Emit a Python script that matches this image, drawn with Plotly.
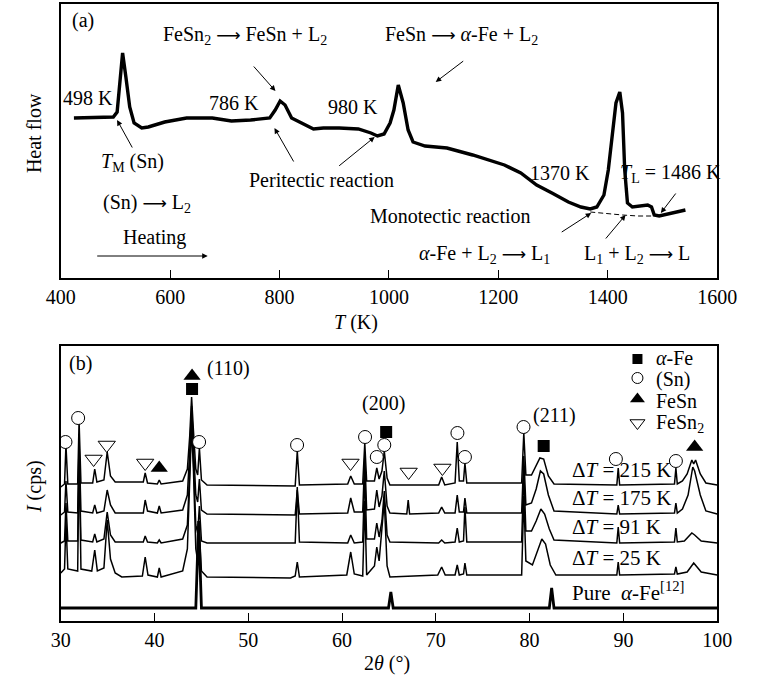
import plotly.graph_objects as go

# ---------------- Panel (a): DSC heat flow ----------------
T_K = [424, 470, 496, 503, 508, 513, 519, 526, 534, 548, 560, 590, 630, 677, 712, 747, 782, 792, 801,
       810, 822, 840, 862, 880, 909, 944, 967, 979, 991, 1002, 1009, 1017, 1026, 1035, 1044, 1066,
       1106, 1153, 1211, 1241, 1270, 1298, 1328, 1351, 1368, 1380, 1393, 1401, 1410, 1415, 1422,
       1427, 1431, 1436, 1445, 1473, 1480, 1485, 1494, 1542]
heat_flow = [160, 161, 161, 166, 198, 225, 201, 171, 155, 150, 151, 156, 160, 160, 157, 158, 160, 168, 177,
             173, 160, 155, 149, 150, 150, 149, 145, 142, 144, 155, 168, 193, 175, 148, 136, 132,
             130, 123, 113, 105, 93, 85, 76, 71, 69, 71, 83, 108, 155, 175, 186,
             165, 108, 75, 71, 73, 71, 63, 62, 68]
baseline_T = [1368, 1400, 1427, 1455, 1485]
baseline_hf = [66, 64, 63, 62, 62]
T_ticks = [400, 600, 800, 1000, 1200, 1400, 1600]

# ---------------- Panel (b): XRD patterns ----------------
xrd_215 = [(30.0,134),(30.4,137),(30.55,176),(30.75,137),(31.8,137),(31.95,200),(32.15,138),(33.4,138),
    (33.62,152),(33.85,139),(34.6,141),(34.95,169),(35.3,145),(35.8,139),(38.8,139),(39.0,148),(39.25,138),
    (40.3,137),(40.5,141),(40.7,137),(43.0,140),(43.5,152),(43.75,185),(43.95,224),(44.15,190),(44.4,152),
    (44.6,146),(44.78,173),(45.0,141),(45.6,136),(55.0,135),(55.22,170),(55.45,136),(60.6,137),(60.92,145),
    (61.3,137),(62.2,137),(62.42,178),(62.62,140),(63.45,140),(63.7,153),(63.95,142),(64.25,150),(64.5,170),
    (64.8,143),(65.1,136),(70.3,136),(70.62,144),(70.95,136),(72.05,138),(72.28,179),(72.5,140),(72.95,140),
    (73.1,158),(73.3,138),(79.15,138),(79.38,188),(79.6,146),(80.2,146),(80.7,156),(81.1,163),(81.5,162),
    (82.0,145),(82.6,137),(89.3,136),(89.45,153),(89.6,136),(95.45,137),(95.6,153),(95.75,137),(96.3,140),
    (96.8,147),(97.3,161),(97.5,157),(97.7,161),(98.2,147),(98.8,138),(100.0,136)]
xrd_175 = [(30.0,106),(30.4,109),(30.55,140),(30.75,109),(31.8,108),(31.95,180),(32.15,110),(33.4,108),
    (33.62,116),(33.85,108),(34.6,110),(34.95,131),(35.3,116),(35.8,108),(38.8,108),(39.0,121),(39.25,110),
    (40.3,108),(40.5,115),(40.7,108),(43.0,111),(43.5,126),(43.75,170),(43.95,215),(44.15,175),(44.4,126),
    (44.6,119),(44.78,142),(45.0,111),(45.6,107),(55.0,106),(55.22,131),(55.45,107),(60.6,108),(60.92,123),
    (61.3,109),(62.2,109),(62.42,165),(62.62,111),(63.45,112),(63.7,131),(63.95,114),(64.25,125),(64.5,150),
    (64.8,115),(65.1,108),(66.9,107),(67.05,121),(67.2,107),(70.3,108),(70.62,114),(70.95,108),(72.05,108),
    (72.28,126),(72.5,109),(72.95,109),(73.1,123),(73.3,108),(79.15,108),(79.38,165),(79.6,116),(80.2,118),
    (80.7,132),(81.15,150),(81.5,147),(82.0,126),(82.6,110),(89.3,107),(89.45,116),(89.6,107),(95.45,108),
    (95.6,118),(95.75,108),(96.3,112),(96.9,126),(97.4,154),(97.6,150),(98.2,126),(98.8,110),(100.0,107)]
xrd_91 = [(30.0,78),(30.4,80),(30.55,118),(30.75,80),(31.8,80),(31.95,165),(32.15,81),(33.4,79),(33.62,87),
    (33.85,79),(34.6,82),(34.95,109),(35.3,86),(35.8,79),(38.8,79),(39.0,85),(39.25,79),(40.3,78),(40.5,81),
    (40.7,78),(43.0,82),(43.5,96),(43.75,150),(43.95,205),(44.15,160),(44.4,96),(44.6,88),(44.78,115),
    (45.0,80),(45.6,78),(55.0,78),(55.22,134),(55.45,79),(60.6,78),(60.92,86),(61.3,78),(62.2,79),(62.42,150),
    (62.62,82),(63.45,82),(63.7,98),(63.95,84),(64.25,100),(64.5,130),(64.8,86),(65.1,79),(70.3,78),
    (70.62,81),(70.95,78),(72.05,79),(72.28,93),(72.5,79),(72.95,80),(73.1,114),(73.3,79),(79.15,79),
    (79.38,150),(79.6,90),(80.2,90),(80.7,100),(81.2,112),(81.6,107),(82.1,92),(82.6,81),(89.3,78),
    (89.45,94),(89.6,78),(95.45,79),(95.6,93),(95.75,79),(96.5,80),(97.3,88),(97.6,86),(98.3,80),(100.0,78)]
xrd_25 = [(30.0,48),(30.4,52),(30.55,100),(30.75,52),(31.8,50),(31.95,170),(32.15,52),(33.3,50),(33.62,71),
    (33.9,50),(34.6,53),(34.95,101),(35.3,62),(35.8,48),(36.5,44),(38.7,45),(39.0,64),(39.3,46),(40.3,44),
    (40.5,53),(40.7,44),(43.0,50),(43.5,72),(43.75,140),(43.95,195),(44.15,150),(44.4,72),(44.6,60),
    (44.78,90),(45.0,50),(45.6,44),(54.5,43),(55.0,45),(55.22,59),(55.45,44),(60.5,46),(60.92,69),(61.3,47),
    (62.2,45),(62.42,120),(62.62,46),(63.45,55),(63.7,74),(63.95,60),(64.25,90),(64.5,120),(64.8,55),
    (65.1,44),(70.2,46),(70.62,54),(71.0,46),(72.05,46),(72.28,56),(72.5,46),(72.95,47),(73.1,58),(73.3,46),
    (79.15,46),(79.38,125),(79.6,60),(80.3,56),(80.8,70),(81.3,82),(81.7,77),(82.2,56),(82.8,46),(89.3,46),
    (89.45,59),(89.6,46),(95.45,47),(95.6,54),(95.75,47),(96.8,49),(97.5,58),(98.3,49),(100.0,46)]
xrd_pure_fe = [(30.0,13),(44.4,13),(44.7,100),(45.0,13),(64.95,13),(65.2,29),(65.45,13),(82.1,13),
    (82.35,33),(82.6,13),(100.0,13)]

pattern_labels = ["Δ<i>T</i> = 215 K", "Δ<i>T</i> = 175 K", "Δ<i>T</i> = 91 K", "Δ<i>T</i> = 25 K",
                  "Pure  <i>α</i>-Fe<sup>[12]</sup>"]
phase_labels = ["<i>α</i>-Fe", "(Sn)", "FeSn", "FeSn<sub>2</sub>"]

# phase marker positions (2θ, intensity)
fe_theta = [44.0, 64.7, 81.5]
fe_I = [232, 189, 175]
sn_theta = [30.5, 31.85, 44.75, 55.2, 62.45, 63.7, 64.5, 72.3, 73.1, 79.35, 89.2, 95.6]
sn_I = [179, 203, 179, 176, 184, 164, 176, 188, 164, 194, 162, 160]
fesn_theta = [40.5, 44.0, 97.6]
fesn_I = [153, 245, 174]
fesn2_theta = [33.5, 34.9, 39.0, 60.9, 67.1, 70.7]
fesn2_I = [162, 176, 158, 158, 149, 153]
theta_ticks = [30, 40, 50, 60, 70, 80, 90, 100]

# ---------------- figure ----------------
W, H = 761, 677
FONT = "Liberation Serif"
FS = 20


def X(px):
    return px / W


def Y(py):
    return 1 - py / H


fig = go.Figure()

fig.add_trace(go.Scatter(x=T_K, y=heat_flow, mode="lines", line=dict(color="black", width=3.4),
                         xaxis="x", yaxis="y", showlegend=False, hoverinfo="skip"))
fig.add_trace(go.Scatter(x=baseline_T, y=baseline_hf, mode="lines",
                         line=dict(color="black", width=1, dash="5px,3px"),
                         xaxis="x", yaxis="y", showlegend=False, hoverinfo="skip"))

for pat, w in [(xrd_215, 1.5), (xrd_175, 1.5), (xrd_91, 1.5), (xrd_25, 1.5), (xrd_pure_fe, 2.8)]:
    fig.add_trace(go.Scatter(x=[p[0] for p in pat], y=[p[1] for p in pat], mode="lines",
                             line=dict(color="black", width=w), xaxis="x2", yaxis="y2",
                             showlegend=False, hoverinfo="skip"))

fig.add_trace(go.Scatter(x=fe_theta, y=fe_I, mode="markers", xaxis="x2", yaxis="y2", showlegend=False,
                         marker=dict(symbol="square", size=12, color="black")))
fig.add_trace(go.Scatter(x=sn_theta, y=sn_I, mode="markers", xaxis="x2", yaxis="y2", showlegend=False,
                         marker=dict(symbol="circle", size=13, color="white", line=dict(color="black", width=1))))
fig.add_trace(go.Scatter(x=fesn_theta, y=fesn_I, mode="markers", xaxis="x2", yaxis="y2", showlegend=False,
                         marker=dict(symbol="triangle-up", size=15, color="black")))
fig.add_trace(go.Scatter(x=fesn2_theta, y=fesn2_I, mode="markers", xaxis="x2", yaxis="y2", showlegend=False,
                         marker=dict(symbol="triangle-down", size=15, color="white", line=dict(color="black", width=1))))

# legend symbols (panel b)
leg_theta = 91.5
leg_I = [262, 243, 222, 198]
leg_sym = [("square", 10, "black", 0), ("circle", 11, "white", 1), ("triangle-up", 13, "black", 0),
           ("triangle-down", 13, "white", 1)]
for yy, (sym, sz, col, lw) in zip(leg_I, leg_sym):
    fig.add_trace(go.Scatter(x=[leg_theta], y=[yy], mode="markers", xaxis="x2", yaxis="y2", showlegend=False,
                             marker=dict(symbol=sym, size=sz, color=col, line=dict(color="black", width=lw))))

ann = []


def txt(px, py, text, size=FS, xanchor="center", angle=0):
    ann.append(dict(x=X(px), y=Y(py), xref="paper", yref="paper", text=text, showarrow=False,
                    xanchor=xanchor, yanchor="middle", textangle=angle, borderpad=0,
                    font=dict(family=FONT, size=size, color="black")))


def arrow(tx, ty, hx, hy):
    ann.append(dict(x=X(hx), y=Y(hy), xref="paper", yref="paper", ax=tx - hx, ay=ty - hy,
                    axref="pixel", ayref="pixel", text="", showarrow=True, arrowhead=2, arrowsize=1.1,
                    arrowwidth=1, arrowcolor="black"))


RA = "<span style='font-family:DejaVu Sans;font-size:17px'>⟶</span>"
# panel (a) texts
txt(71, 21, "(a)")
txt(77, 98, "498 K")
txt(241, 36, "FeSn<sub>2</sub> " + RA + " FeSn + L<sub>2</sub>")
arrow(250, 65, 273, 91)
txt(230, 103, "786 K")
txt(354, 107, "980 K")
txt(468, 36, "FeSn " + RA + " <i>α</i>-Fe + L<sub>2</sub>")
arrow(470, 60, 441, 82)
txt(123, 163, "<i>T</i><sub>M</sub> (Sn)")
arrow(123, 149, 107, 120)
txt(321, 180, "Peritectic reaction")
arrow(292, 163, 272, 128)
arrow(340, 167, 377, 137)
txt(138, 203, "(Sn) " + RA + " L<sub>2</sub>")
txt(146, 238, "Heating")
arrow(90, 256, 202, 256)
txt(571, 173, "1370 K")
txt(687, 173, "<i>T</i><sub>L</sub> = 1486 K")
arrow(693, 192, 677, 213)
txt(457, 216, "Monotectic reaction")
arrow(573, 233, 604, 213)
arrow(619, 240, 640, 215)
txt(492, 254, "<i>α</i>-Fe + L<sub>2</sub> " + RA + " L<sub>1</sub>")
txt(652, 254, "L<sub>1</sub> + L<sub>2</sub> " + RA + " L")
txt(20, 133, "Heat flow", angle=-90)
txt(357, 322, "<i>T</i> (K)")

# panel (b) texts
txt(69, 363, "(b)")
txt(224, 368, "(110)")
txt(386, 403, "(200)")
txt(565, 415, "(211)")
for py, lab in zip([470, 498, 527, 558, 591], pattern_labels):
    txt(583, py, lab, size=21, xanchor="left")
for py, lab in zip([358, 379, 401, 424], phase_labels):
    txt(671, py, lab, size=20, xanchor="left")
txt(20, 487, "<i>I</i> (cps)", angle=-90)
txt(390, 663, "2<i>θ</i> (°)")

axis_common = dict(showline=True, linecolor="black", linewidth=1.5, mirror=True, showgrid=False,
                   zeroline=False, ticks="inside", ticklen=8, tickwidth=1.2, tickcolor="black",
                   tickfont=dict(family=FONT, size=FS, color="black"))
fig.update_layout(
    width=W, height=H, margin=dict(l=0, r=0, t=0, b=0),
    paper_bgcolor="white", plot_bgcolor="white",
    xaxis=dict(domain=[X(48), X(736)], range=[400, 1600], tickvals=T_ticks, anchor="y", **axis_common),
    yaxis=dict(domain=[Y(278), Y(4)], range=[0, 274], showline=True, linecolor="black", linewidth=1.5,
               mirror=True, showgrid=False, zeroline=False, showticklabels=False, ticks="", anchor="x"),
    xaxis2=dict(domain=[X(48), X(736)], range=[30, 100], tickvals=theta_ticks, anchor="y2", **axis_common),
    yaxis2=dict(domain=[Y(621), Y(346)], range=[0, 275], showline=True, linecolor="black", linewidth=1.5,
                mirror=True, showgrid=False, zeroline=False, showticklabels=False, ticks="", anchor="x2"),
    annotations=ann,
    showlegend=False,
)

fig.write_html("out.html")
